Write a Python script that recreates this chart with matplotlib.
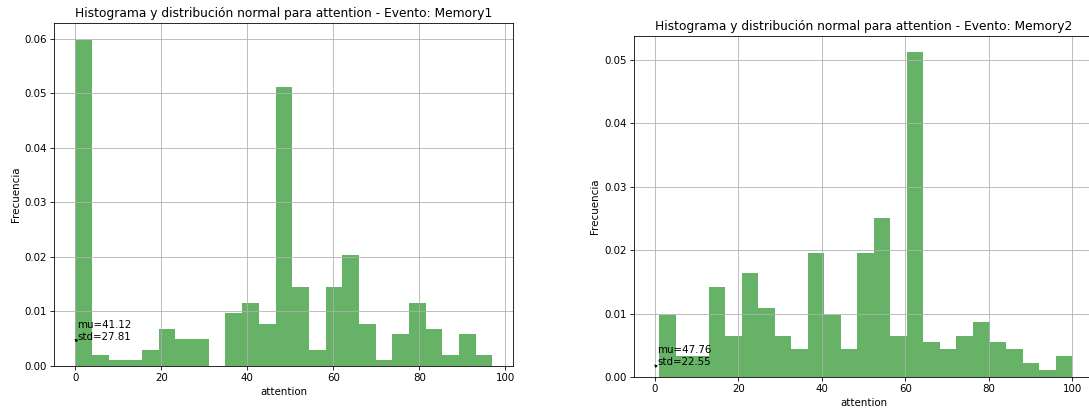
import numpy as np
import matplotlib
matplotlib.use("Agg")
import matplotlib.pyplot as plt

# Memory1: 25 bins between 0 and 97
m1_range = (0, 97)
m1_counts = [62, 2, 1, 1, 3, 7, 5, 5, 0, 10, 12, 8, 53, 15, 3, 15, 21, 8, 1, 6, 12, 7, 2, 6, 2]
m1_mu, m1_std = 41.12, 27.81

# Memory2: 25 bins between 1 and 100
m2_range = (1, 100)
m2_counts = [9, 3, 3, 13, 6, 15, 10, 6, 4, 18, 9, 4, 18, 23, 6, 47, 5, 4, 6, 8, 5, 4, 2, 1, 3]
m2_mu, m2_std = 47.76, 22.55

events = ["Memory1", "Memory2"]
variable = "attention"

DPI = 73.5


def draw_hist(ax, counts, rng, mu, std, evento):
    edges = np.linspace(rng[0], rng[1], len(counts) + 1)
    ax.hist(edges[:-1], bins=edges, weights=counts, density=True,
            alpha=0.6, color="g")
    ax.set_title(f"Histograma y distribución normal para {variable} - Evento: {evento}")
    ax.set_xlabel(variable)
    ax.set_ylabel("Frecuencia")
    ax.grid(True)

    # normal pdf at x = 0, used for the annotation position
    y0 = np.exp(-0.5 * ((0 - mu) / std) ** 2) / (std * np.sqrt(2 * np.pi))
    ax.annotate(f"mu={mu:.2f}\nstd={std:.2f}", xy=(0, y0), xytext=(0.5, y0),
                arrowprops=dict(facecolor="black", width=1, headwidth=2,
                                headlength=2, shrink=0.05))


fig = plt.figure(figsize=(1089 / DPI, 410 / DPI), dpi=DPI)
ax1 = fig.add_axes([0.0499, 0.108, 0.4215, 0.835])
ax2 = fig.add_axes([0.5822, 0.0805, 0.4215, 0.8317])

draw_hist(ax1, m1_counts, m1_range, m1_mu, m1_std, events[0])
draw_hist(ax2, m2_counts, m2_range, m2_mu, m2_std, events[1])
ax2.set_xlim(-5, 105)

fig.savefig("out.png", dpi=DPI)
plt.close()
